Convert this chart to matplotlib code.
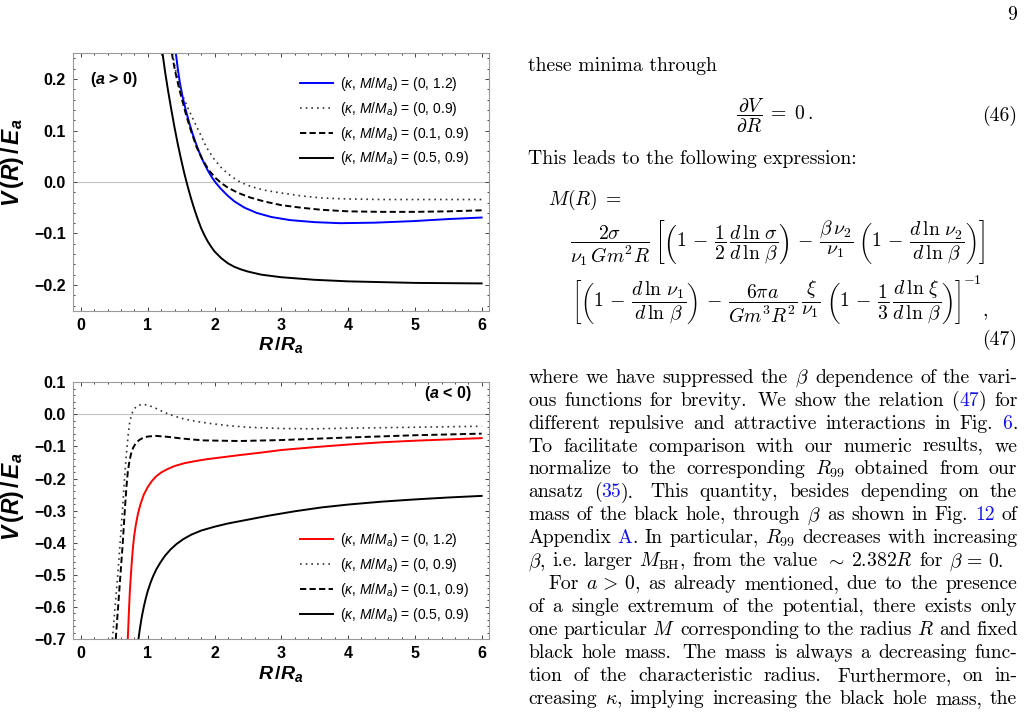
import matplotlib
matplotlib.use('Agg')
import matplotlib.pyplot as plt
from matplotlib.transforms import IdentityTransform

SANS = 'Liberation Sans'
plt.rcParams['mathtext.fontset'] = 'custom'
plt.rcParams['mathtext.it'] = 'Liberation Sans:italic'
plt.rcParams['mathtext.rm'] = 'Liberation Sans'
plt.rcParams['mathtext.bf'] = 'Liberation Sans:bold'
plt.rcParams['mathtext.bfit'] = 'Liberation Sans:italic:bold'

# ---------------- data ----------------
x_ticks = [0, 1, 2, 3, 4, 5, 6]
x_ticklabels = ['0', '1', '2', '3', '4', '5', '6']
y_ticks_top = [-0.2, -0.1, 0.0, 0.1, 0.2]
y_ticklabels_top = ['\u22120.2', '\u22120.1', '0.0', '0.1', '0.2']
y_ticks_bot = [-0.7, -0.6, -0.5, -0.4, -0.3, -0.2, -0.1, 0.0, 0.1]
y_ticklabels_bot = ['\u22120.7', '\u22120.6', '\u22120.5', '\u22120.4', '\u22120.3',
                    '\u22120.2', '\u22120.1', '0.0', '0.1']

legend_labels = [r'($\kappa$, $M/M_a$) = (0, 1.2)',
                 r'($\kappa$, $M/M_a$) = (0, 0.9)',
                 r'($\kappa$, $M/M_a$) = (0.1, 0.9)',
                 r'($\kappa$, $M/M_a$) = (0.5, 0.9)']

# top panel (a > 0)
top_blue_x = [1.42, 1.45, 1.48, 1.52, 1.57, 1.62, 1.67, 1.72, 1.77, 1.83, 1.90, 1.96,
              2.02, 2.10, 2.20, 2.30, 2.45, 2.63, 2.85, 3.13, 3.5, 3.88, 4.4, 4.97, 5.5, 6.0]
top_blue_y = [0.250, 0.219, 0.193, 0.166, 0.139, 0.115, 0.094, 0.075, 0.058, 0.040, 0.022,
              0.009, -0.002, -0.014, -0.027, -0.038, -0.050, -0.060, -0.068, -0.074,
              -0.078, -0.080, -0.079, -0.076, -0.072, -0.069]
top_dot_x = [1.37, 1.40, 1.43, 1.46, 1.51, 1.58, 1.66, 1.76, 1.88, 2.0, 2.12, 2.25, 2.38,
             2.55, 2.75, 2.98, 3.3, 3.6, 4.0, 4.5, 5.0, 6.0]
top_dot_y = [0.250, 0.228, 0.209, 0.193, 0.172, 0.150, 0.127, 0.100, 0.067, 0.043, 0.025,
             0.011, 0.000, -0.009, -0.016, -0.021, -0.027, -0.031, -0.033, -0.034, -0.034,
             -0.034]
top_dash_x = [1.36, 1.39, 1.42, 1.45, 1.50, 1.57, 1.65, 1.73, 1.82, 1.92, 2.02, 2.11, 2.2,
              2.35, 2.53, 2.75, 3.0, 3.3, 3.6, 4.0, 4.5, 5.0, 5.5, 6.0]
top_dash_y = [0.250, 0.228, 0.209, 0.192, 0.166, 0.132, 0.098, 0.068, 0.043, 0.022, 0.007,
              -0.003, -0.011, -0.021, -0.030, -0.038, -0.045, -0.050, -0.054, -0.057,
              -0.058, -0.058, -0.057, -0.055]
top_solid_x = [1.22, 1.26, 1.30, 1.35, 1.40, 1.45, 1.50, 1.55, 1.60, 1.65, 1.70, 1.75,
               1.80, 1.85, 1.90, 1.95, 2.0, 2.1, 2.2, 2.3, 2.4, 2.5, 2.7, 3.0, 3.5, 4.0,
               5.0, 6.0]
top_solid_y = [0.250, 0.213, 0.180, 0.142, 0.106, 0.073, 0.043, 0.015, -0.010, -0.033,
               -0.054, -0.073, -0.090, -0.104, -0.116, -0.126, -0.135, -0.148, -0.158,
               -0.165, -0.170, -0.174, -0.180, -0.185, -0.190, -0.193, -0.196, -0.197]

# bottom panel (a < 0)
bot_red_x = [0.70, 0.71, 0.72, 0.73, 0.745, 0.76, 0.775, 0.795, 0.82, 0.85, 0.89, 0.94,
             1.0, 1.06, 1.12, 1.2, 1.3, 1.4, 1.55, 1.7, 1.87, 2.1, 2.37, 2.7, 3.0, 3.5,
             4.0, 4.5, 5.0, 5.5, 6.0]
bot_red_y = [-0.70, -0.65, -0.60, -0.555, -0.505, -0.46, -0.42, -0.38, -0.345, -0.312,
             -0.280, -0.250, -0.226, -0.208, -0.194, -0.181, -0.170, -0.161, -0.152,
             -0.146, -0.140, -0.134, -0.127, -0.119, -0.111, -0.102, -0.094, -0.087,
             -0.082, -0.078, -0.074]
bot_dot_x = [0.47, 0.51, 0.55, 0.585, 0.62, 0.645, 0.665, 0.685, 0.705, 0.725, 0.75,
             0.78, 0.82, 0.87, 0.92, 1.0, 1.1, 1.2, 1.32, 1.5, 1.7, 1.92, 2.2, 2.5, 3.0,
             3.5, 4.0, 5.0, 6.0]
bot_dot_y = [-0.70, -0.60, -0.50, -0.40, -0.30, -0.22, -0.16, -0.11, -0.065, -0.030,
             -0.005, 0.012, 0.023, 0.029, 0.031, 0.029, 0.021, 0.011, 0.000, -0.012,
             -0.021, -0.028, -0.035, -0.040, -0.044, -0.045, -0.043, -0.040, -0.037]
bot_dash_x = [0.52, 0.555, 0.59, 0.625, 0.655, 0.68, 0.70, 0.725, 0.75, 0.78, 0.82, 0.87,
              0.93, 1.0, 1.12, 1.3, 1.5, 1.82, 2.37, 3.0, 3.87, 5.0, 6.0]
bot_dash_y = [-0.70, -0.60, -0.50, -0.40, -0.30, -0.225, -0.18, -0.145, -0.122, -0.104,
              -0.090, -0.080, -0.073, -0.069, -0.067, -0.070, -0.075, -0.081, -0.083,
              -0.080, -0.073, -0.065, -0.060]
bot_solid_x = [0.86, 0.88, 0.90, 0.92, 0.945, 0.97, 1.0, 1.04, 1.08, 1.13, 1.19, 1.26,
               1.34, 1.43, 1.53, 1.65, 1.8, 2.0, 2.2, 2.5, 2.8, 3.2, 3.6, 4.0, 4.5, 5.0,
               5.5, 6.0]
bot_solid_y = [-0.70, -0.67, -0.643, -0.620, -0.595, -0.573, -0.550, -0.525, -0.504,
               -0.482, -0.461, -0.440, -0.421, -0.404, -0.389, -0.375, -0.362, -0.350,
               -0.340, -0.328, -0.316, -0.302, -0.290, -0.281, -0.272, -0.265, -0.259,
               -0.254]

# ---------------- figure ----------------
W, H = 1025, 717
fig = plt.figure(figsize=(W / 100, H / 100), dpi=100)


def px_axes(l, t, r, b):
    return fig.add_axes([l / W, 1 - b / H, (r - l) / W, (b - t) / H])


ax1 = px_axes(72.7, 53.3, 489, 310.7)
ax2 = px_axes(72.7, 382.3, 489, 639)

DOT = (0, (1.0, 2.4))
DASH = (0, (3.2, 1.7))
LW = 1.4

YLABEL = r'$\mathbfit{V}\,\mathbf{(}\mathbfit{R}\mathbf{)}\,\mathbf{/}\,\mathbfit{E_a}$'
XLABEL = r'$\mathbfit{R}\,\mathbf{/}\mathbfit{R_a}$'


def style(ax, ylim, yt, ytl):
    ax.set_xlim(-0.125, 6.11)
    ax.set_ylim(*ylim)
    ax.set_xticks(x_ticks, x_ticklabels, fontweight='bold', fontsize=11.5, family=SANS)
    ax.set_yticks(yt, ytl, fontweight='bold', fontsize=11.5, family=SANS)
    ax.set_xticks([v / 5 for v in range(0, 31) if v % 5], minor=True)
    lo = int(round(ylim[0] * 50)); hi = int(round(ylim[1] * 50))
    ax.set_yticks([v / 50 for v in range(lo, hi + 1) if v % 5], minor=True)
    ax.tick_params(which='both', direction='in', top=True, right=True,
                   color='#444444', width=0.7)
    ax.tick_params(which='major', length=3, pad=5)
    ax.tick_params(which='minor', length=1.7)
    for s in ax.spines.values():
        s.set_color('#9a9a9a')
        s.set_linewidth(0.8)
    ax.axhline(0, color='#c4c4c4', lw=0.8, zorder=0)
    ax.set_xlabel(XLABEL, fontsize=14, labelpad=2)
    ax.set_ylabel(YLABEL, fontsize=16.5)


style(ax1, (-0.25, 0.25), y_ticks_top, y_ticklabels_top)
style(ax2, (-0.7, 0.1), y_ticks_bot, y_ticklabels_bot)
ax1.yaxis.set_label_coords(-0.113, 0.574)
ax2.yaxis.set_label_coords(-0.113, 0.554)

h1 = ax1.plot(top_blue_x, top_blue_y, color='#0000ff', lw=LW)[0]
h2 = ax1.plot(top_dot_x, top_dot_y, color='#333333', lw=1.2, ls=DOT)[0]
h3 = ax1.plot(top_dash_x, top_dash_y, color='black', lw=LW, ls=DASH)[0]
h4 = ax1.plot(top_solid_x, top_solid_y, color='black', lw=LW)[0]

g1 = ax2.plot(bot_red_x, bot_red_y, color='#ff0000', lw=LW)[0]
g2 = ax2.plot(bot_dot_x, bot_dot_y, color='#333333', lw=1.2, ls=DOT)[0]
g3 = ax2.plot(bot_dash_x, bot_dash_y, color='black', lw=LW, ls=DASH)[0]
g4 = ax2.plot(bot_solid_x, bot_solid_y, color='black', lw=LW)[0]

for ax, hs, anchor in ((ax1, [h1, h2, h3, h4], (0.546, 0.917)),
                       (ax2, [g1, g2, g3, g4], (0.546, 0.421))):
    ax.legend(hs, legend_labels, loc='upper left', bbox_to_anchor=anchor,
              frameon=False, prop={'family': SANS, 'size': 10},
              handlelength=2.4, handletextpad=0.5,
              labelspacing=0.5, borderpad=0, borderaxespad=0)

ax1.text(0.0416, 0.899, r'($\mathbfit{a}$ > 0)', transform=ax1.transAxes, fontsize=11.5,
         fontweight='bold', family=SANS, va='center', ha='left')
ax2.text(0.959, 0.958, r'($\mathbfit{a}$ < 0)', transform=ax2.transAxes, fontsize=11.5,
         fontweight='bold', family=SANS, va='center', ha='right')

# ---------------- right-hand text column ----------------
FS = 14.2
LINK = '#1010ee'
ID = IdentityTransform()
renderer = fig.canvas.get_renderer()


def ptext(x, y_img, s, **kw):
    kw.setdefault('fontsize', FS)
    kw.setdefault('family', 'cmr10')
    kw.setdefault('math_fontfamily', 'cm')
    kw.setdefault('va', 'baseline')
    return fig.text(x, H - y_img, s, transform=ID, **kw)


def split_words(line):
    words, wts = [], []
    cur, inm, pend = '', False, 1.0
    for ch in line:
        if ch == '$':
            inm = not inm
            cur += ch
        elif ch == ' ' and not inm:
            if cur:
                words.append(cur); wts.append(pend)
                cur, pend = '', 1.0
            else:
                pend = 1.45
        else:
            cur += ch
    if cur:
        words.append(cur); wts.append(pend)
    return words, wts


t_a = ptext(0, 0, 'aa'); t_b = ptext(0, 0, 'a a')
SPACE = t_b.get_window_extent(renderer).width - t_a.get_window_extent(renderer).width
t_a.remove(); t_b.remove()


def par_line(line, y_img, x0=528.3, x1=1017.3, justify=True):
    words, wts = split_words(line)
    objs, widths = [], []
    for w in words:
        ts, ww = [], 0.0
        for k, p in enumerate(w.split('#')):
            if not p:
                continue
            t = ptext(0, y_img, p, color=LINK if k % 2 else 'black')
            wd = t.get_window_extent(renderer).width
            ts.append((t, wd)); ww += wd
        objs.append(ts); widths.append(ww)
    if justify and len(words) > 1:
        unit = (x1 - x0 - sum(widths)) / sum(wts[1:])
    else:
        unit = SPACE
    x = x0
    for i, ts in enumerate(objs):
        if i > 0:
            x += unit * wts[i]
        for t, wd in ts:
            t.set_position((x, H - y_img))
            x += wd


EQ = 14.2
ptext(1017, 20, '9', ha='right')
ptext(528.3, 71, 'these minima through')
ptext(736, 121, r'$\dfrac{\partial V}{\partial R}\;=\;0\,.$', fontsize=EQ)
ptext(1017.3, 121, '(46)', ha='right')
ptext(528.3, 164, 'This leads to the following expression:')
ptext(548, 205, r'$M(R)\;=$', fontsize=EQ)
ptext(570, 247, r'$\dfrac{2\sigma}{\nu_1\, G m^2 R}\;\left[\left(1\,-\,\dfrac{1}{2}\,\dfrac{d\,\ln\,\sigma}{d\,\ln\,\beta}\right)\,-\,\dfrac{\beta\,\nu_2}{\nu_1}\;\left(1\,-\,\dfrac{d\,\ln\,\nu_2}{d\,\ln\,\beta}\right)\right]$', fontsize=EQ)
t3 = ptext(572, 307, r'$\left[\left(1\,-\,\dfrac{d\,\ln\,\nu_1}{d\,\ln\,\beta}\right)\,-\,\dfrac{6\pi a}{G m^3 R^2}\,\dfrac{\xi}{\nu_1}\;\left(1\,-\,\dfrac{1}{3}\,\dfrac{d\,\ln\,\xi}{d\,\ln\,\beta}\right)\right]$', fontsize=EQ)
bb3 = t3.get_window_extent(renderer)
tsup = ptext(bb3.x1 + 2, 284, r'$-1$', fontsize=10)
bbs = tsup.get_window_extent(renderer)
ptext(bbs.x1 + 1, 316, ',', fontsize=EQ)
ptext(1017.3, 345, '(47)', ha='right')

par_lines = [
    r'where we have suppressed the $\beta$ dependence of the vari-',
    r'ous functions for brevity.  We show the relation (#47#) for',
    r'different repulsive and attractive interactions in Fig. #6#.',
    r'To facilitate comparison with our numeric results, we',
    r'normalize to the corresponding $R_{99}$ obtained from our',
    r'ansatz (#35#).  This quantity, besides depending on the',
    r'mass of the black hole, through $\beta$ as shown in Fig. #12# of',
    r'Appendix #A#. In particular, $R_{99}$ decreases with increasing',
    r'$\beta$, i.e. larger $M_{\mathrm{BH}}$, from the value $\sim$ $2.382R$ for $\beta\,=\,0$.',
    r'For $a\,>\,0$, as already mentioned, due to the presence',
    r'of a single extremum of the potential, there exists only',
    r'one particular $M$ corresponding to the radius $R$ and fixed',
    r'black hole mass.  The mass is always a decreasing func-',
    r'tion of the characteristic radius.  Furthermore, on in-',
    r'creasing $\kappa$, implying increasing the black hole mass, the',
]
y0, dy = 382.7, 22.95
for i, line in enumerate(par_lines):
    yb = y0 + i * dy
    if i == 8:
        par_line(line, yb, justify=False)
    elif i == 9:
        par_line(line, yb, x0=548.0)
    else:
        par_line(line, yb)

fig.savefig('out.png', dpi=100)
